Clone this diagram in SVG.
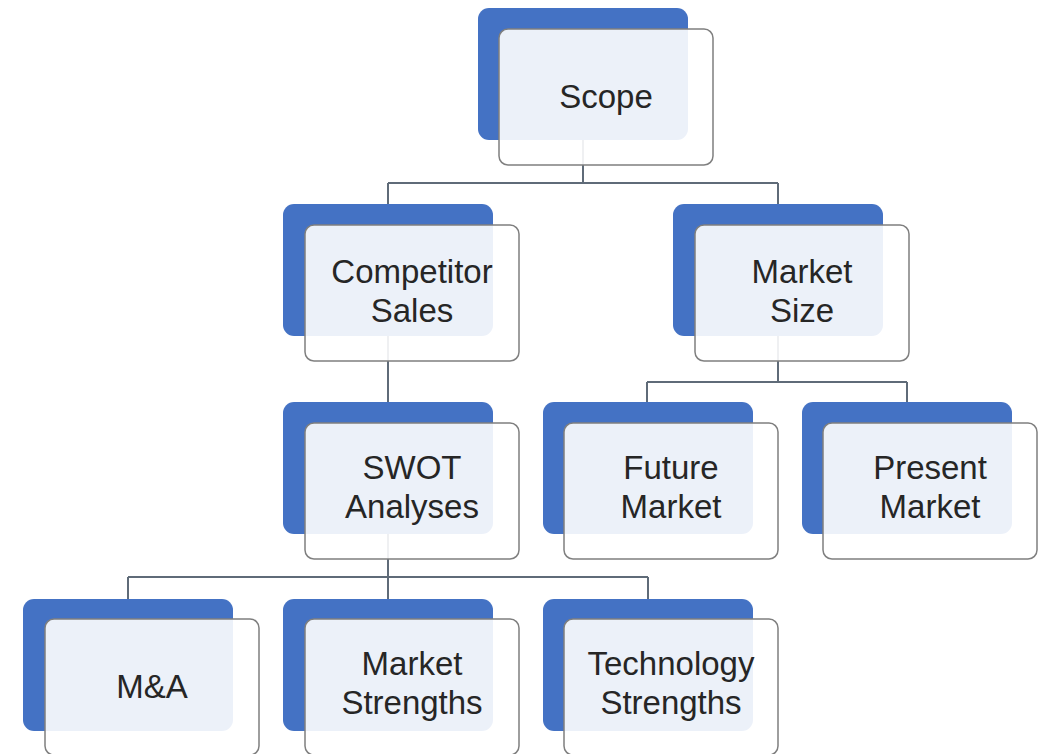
<svg xmlns="http://www.w3.org/2000/svg" width="1038" height="754" viewBox="0 0 1038 754">
<style>
.back{fill:#4472c4}
.front{fill:#ffffff;fill-opacity:0.9;stroke:#7f7f7f;stroke-width:1.5}
.lbl{font-family:"Liberation Sans",Arial,sans-serif;font-size:33px;fill:#262626;text-anchor:middle}
.con{fill:none;stroke:#5f6b78;stroke-width:2}
</style>
<rect width="1038" height="754" fill="#ffffff"/>
<g id="connectors" class="con">
<path d="M583,140 V183 M388,183 H778 M388,183 V204 M778,183 V204"/>
<path d="M388,336 V402"/>
<path d="M778,336 V382 M647,382 H907 M647,382 V402 M907,382 V402"/>
<path d="M388,534 V577 M128,577 H648 M128,577 V599 M388,577 V599 M648,577 V599"/>
</g>
<g id="scope">
<rect class="back" x="478" y="8" width="210" height="132" rx="11"/>
<rect class="front" x="499" y="29" width="214" height="136" rx="9"/>
<text class="lbl" x="606" y="108">Scope</text>
</g>
<g id="competitor-sales">
<rect class="back" x="283" y="204" width="210" height="132" rx="11"/>
<rect class="front" x="305" y="225" width="214" height="136" rx="9"/>
<text class="lbl" x="412" y="283">Competitor</text>
<text class="lbl" x="412" y="322">Sales</text>
</g>
<g id="market-size">
<rect class="back" x="673" y="204" width="210" height="132" rx="11"/>
<rect class="front" x="695" y="225" width="214" height="136" rx="9"/>
<text class="lbl" x="802" y="283">Market</text>
<text class="lbl" x="802" y="322">Size</text>
</g>
<g id="swot-analyses">
<rect class="back" x="283" y="402" width="210" height="132" rx="11"/>
<rect class="front" x="305" y="423" width="214" height="136" rx="9"/>
<text class="lbl" x="412" y="479">SWOT</text>
<text class="lbl" x="412" y="518">Analyses</text>
</g>
<g id="future-market">
<rect class="back" x="543" y="402" width="210" height="132" rx="11"/>
<rect class="front" x="564" y="423" width="214" height="136" rx="9"/>
<text class="lbl" x="671" y="479">Future</text>
<text class="lbl" x="671" y="518">Market</text>
</g>
<g id="present-market">
<rect class="back" x="802" y="402" width="210" height="132" rx="11"/>
<rect class="front" x="823" y="423" width="214" height="136" rx="9"/>
<text class="lbl" x="930" y="479">Present</text>
<text class="lbl" x="930" y="518">Market</text>
</g>
<g id="m-and-a">
<rect class="back" x="23" y="599" width="210" height="132" rx="11"/>
<rect class="front" x="45" y="619" width="214" height="136" rx="9"/>
<text class="lbl" x="152" y="698">M&amp;A</text>
</g>
<g id="market-strengths">
<rect class="back" x="283" y="599" width="210" height="132" rx="11"/>
<rect class="front" x="305" y="619" width="214" height="136" rx="9"/>
<text class="lbl" x="412" y="675">Market</text>
<text class="lbl" x="412" y="714">Strengths</text>
</g>
<g id="technology-strengths">
<rect class="back" x="543" y="599" width="210" height="132" rx="11"/>
<rect class="front" x="564" y="619" width="214" height="136" rx="9"/>
<text class="lbl" x="671" y="675">Technology</text>
<text class="lbl" x="671" y="714">Strengths</text>
</g>
</svg>
